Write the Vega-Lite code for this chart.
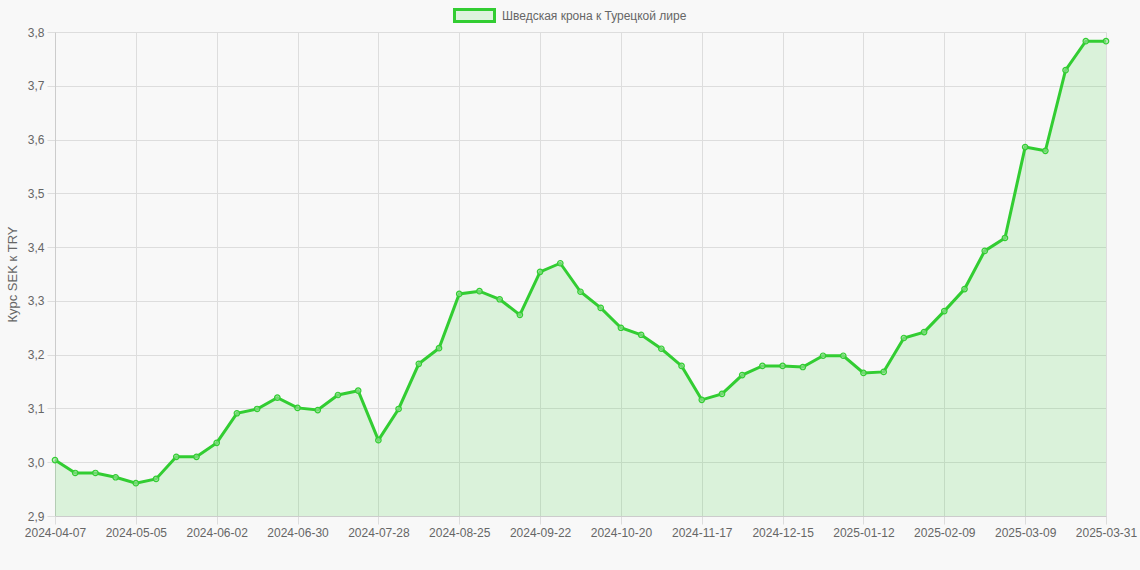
{
  "$schema": "https://vega.github.io/schema/vega-lite/v6.json",
  "autosize": {"type": "none"},
  "padding": {"left": 55, "top": 32, "right": 34, "bottom": 54},
  "width": 1051,
  "height": 484,
  "background": "#f8f8f8",
  "config": {
    "view": {"stroke": null},
    "font": "Liberation Sans",
    "axis": {"labelFont": "Liberation Sans", "titleFont": "Liberation Sans"}
  },
  "data": {
    "values": [
      {"date": "2024-04-07", "rate": 3.004},
      {"date": "2024-04-14", "rate": 2.980},
      {"date": "2024-04-21", "rate": 2.980},
      {"date": "2024-04-28", "rate": 2.972},
      {"date": "2024-05-05", "rate": 2.961},
      {"date": "2024-05-12", "rate": 2.969},
      {"date": "2024-05-19", "rate": 3.010},
      {"date": "2024-05-26", "rate": 3.010},
      {"date": "2024-06-02", "rate": 3.036},
      {"date": "2024-06-09", "rate": 3.091},
      {"date": "2024-06-16", "rate": 3.099},
      {"date": "2024-06-23", "rate": 3.120},
      {"date": "2024-06-30", "rate": 3.101},
      {"date": "2024-07-07", "rate": 3.097},
      {"date": "2024-07-14", "rate": 3.125},
      {"date": "2024-07-21", "rate": 3.133},
      {"date": "2024-07-28", "rate": 3.041},
      {"date": "2024-08-04", "rate": 3.099},
      {"date": "2024-08-11", "rate": 3.183},
      {"date": "2024-08-18", "rate": 3.212},
      {"date": "2024-08-25", "rate": 3.313},
      {"date": "2024-09-01", "rate": 3.318},
      {"date": "2024-09-08", "rate": 3.303},
      {"date": "2024-09-15", "rate": 3.274},
      {"date": "2024-09-22", "rate": 3.354},
      {"date": "2024-09-29", "rate": 3.370},
      {"date": "2024-10-06", "rate": 3.317},
      {"date": "2024-10-13", "rate": 3.287},
      {"date": "2024-10-20", "rate": 3.250},
      {"date": "2024-10-27", "rate": 3.237},
      {"date": "2024-11-03", "rate": 3.211},
      {"date": "2024-11-10", "rate": 3.179},
      {"date": "2024-11-17", "rate": 3.116},
      {"date": "2024-11-24", "rate": 3.127},
      {"date": "2024-12-01", "rate": 3.162},
      {"date": "2024-12-08", "rate": 3.179},
      {"date": "2024-12-15", "rate": 3.179},
      {"date": "2024-12-22", "rate": 3.177},
      {"date": "2024-12-29", "rate": 3.198},
      {"date": "2025-01-05", "rate": 3.198},
      {"date": "2025-01-12", "rate": 3.166},
      {"date": "2025-01-19", "rate": 3.168},
      {"date": "2025-01-26", "rate": 3.231},
      {"date": "2025-02-02", "rate": 3.242},
      {"date": "2025-02-09", "rate": 3.281},
      {"date": "2025-02-16", "rate": 3.322},
      {"date": "2025-02-23", "rate": 3.393},
      {"date": "2025-03-02", "rate": 3.417},
      {"date": "2025-03-09", "rate": 3.586},
      {"date": "2025-03-16", "rate": 3.579},
      {"date": "2025-03-23", "rate": 3.729},
      {"date": "2025-03-30", "rate": 3.783},
      {"date": "2025-03-31", "rate": 3.783}
    ]
  },
  "encoding": {
    "x": {
      "field": "date",
      "type": "ordinal",
      "sort": null,
      "scale": {"type": "point", "padding": 0},
      "axis": {
        "title": null,
        "values": ["2024-04-07", "2024-05-05", "2024-06-02", "2024-06-30", "2024-07-28", "2024-08-25", "2024-09-22", "2024-10-20", "2024-11-17", "2024-12-15", "2025-01-12", "2025-02-09", "2025-03-09", "2025-03-31"],
        "labelAngle": 0,
        "labelFontSize": 12,
        "labelColor": "#666666",
        "labelPadding": 3,
        "grid": true,
        "gridColor": "#dddddd",
        "domainColor": "#cccccc",
        "tickColor": "#dddddd",
        "tickSize": 8
      }
    },
    "y": {
      "field": "rate",
      "type": "quantitative",
      "scale": {"domain": [2.9, 3.8], "nice": false, "zero": false},
      "axis": {
        "title": "Курс SEK к TRY",
        "titleFontSize": 13,
        "titleFontWeight": "normal",
        "titleColor": "#666666",
        "titlePadding": 8,
        "values": [2.9, 3.0, 3.1, 3.2, 3.3, 3.4, 3.5, 3.6, 3.7, 3.8],
        "format": ".1f",
        "labelExpr": "replace(datum.label, '.', ',')",
        "labelFontSize": 12,
        "labelColor": "#666666",
        "labelPadding": 3,
        "grid": true,
        "gridColor": "#dddddd",
        "domainColor": "#cccccc",
        "tickColor": "#dddddd",
        "tickSize": 8
      }
    }
  },
  "layer": [
    {
      "mark": {"type": "area", "color": "#32cd32", "opacity": 0.15, "clip": true},
      "encoding": {}
    },
    {
      "mark": {"type": "line", "strokeWidth": 3},
      "encoding": {
        "color": {
          "datum": "Шведская крона к Турецкой лире",
          "type": "nominal",
          "scale": {"range": ["#32cd32"]},
          "legend": {
            "title": null,
            "orient": "none",
            "legendX": 398,
            "legendY": -38,
            "symbolType": "M-1,-0.3H1V0.3H-1Z",
            "symbolSize": 1600,
            "symbolStrokeWidth": 3,
            "symbolStrokeColor": "#32cd32",
            "symbolFillColor": "#def3de",
            "symbolOpacity": 1,
            "labelFontSize": 12,
            "labelColor": "#666666",
            "labelFont": "Liberation Sans",
            "labelOffset": 6,
            "labelLimit": 0
          }
        }
      }
    },
    {
      "mark": {"type": "point", "shape": "circle", "size": 30, "filled": true, "fill": "#9be09b", "fillOpacity": 0.6, "stroke": "#32cd32", "strokeWidth": 1.2, "opacity": 1},
      "encoding": {}
    }
  ]
}
